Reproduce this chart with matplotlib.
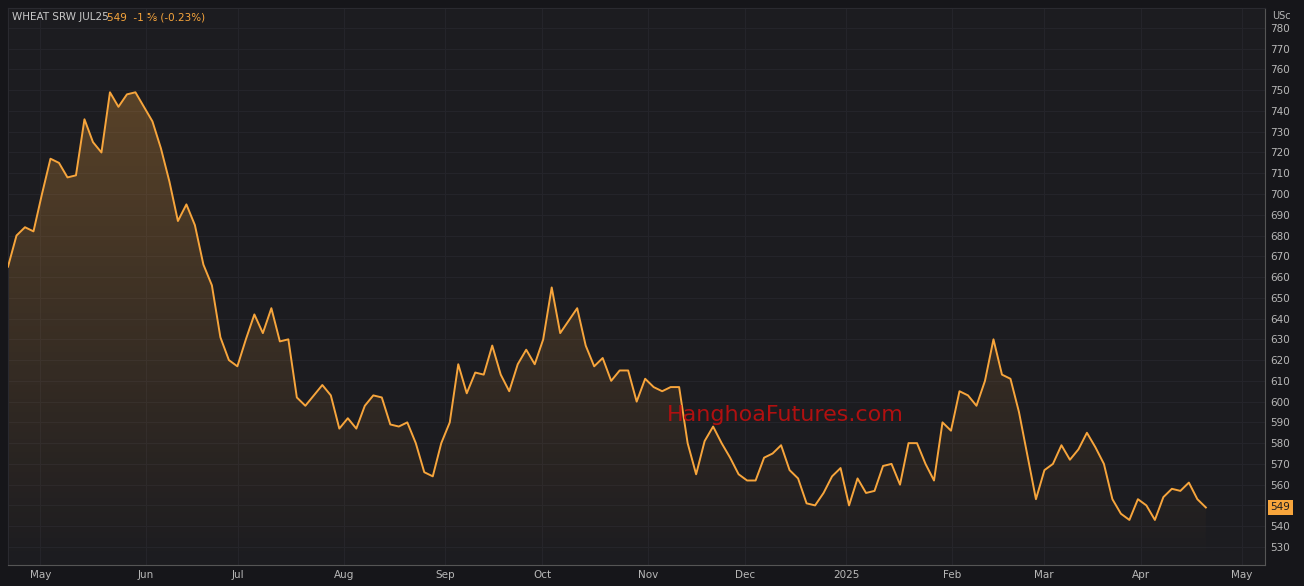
import numpy as np
import pandas as pd
import matplotlib
matplotlib.use('Agg')
import matplotlib.pyplot as plt
from matplotlib.colors import LinearSegmentedColormap

prices = [665, 680, 684, 682, 700, 717, 715, 708, 709, 736, 725, 720, 749, 742, 748, 749,
          742, 735, 722, 706, 687, 695, 685, 666, 656, 631, 620, 617, 630, 642, 633, 645,
          629, 630, 602, 598, 603, 608, 603, 587, 592, 587, 598, 603, 602, 589, 588, 590,
          580, 566, 564, 580, 590, 618, 604, 614, 613, 627, 613, 605, 618, 625, 618, 630,
          655, 633, 639, 645, 627, 617, 621, 610, 615, 615, 600, 611, 607, 605, 607, 607,
          580, 565, 581, 588, 580, 573, 565, 562, 562, 573, 575, 579, 567, 563, 551, 550,
          556, 564, 568, 550, 563, 556, 557, 569, 570, 560, 580, 580, 570, 562, 590, 586,
          605, 603, 598, 610, 630, 613, 611, 595, 574, 553, 567, 570, 579, 572, 577, 585,
          578, 570, 553, 546, 543, 553, 550, 543, 554, 558, 557, 561, 553, 549]
days = pd.bdate_range('2024-04-22', '2025-05-10')
step = (len(days[:days.get_loc(pd.Timestamp('2025-04-22'))]) + 1) / len(prices)
x = np.arange(len(prices)) * step

month_labels = ['May', 'Jun', 'Jul', 'Aug', 'Sep', 'Oct', 'Nov', 'Dec', '2025',
                'Feb', 'Mar', 'Apr', 'May']
month_starts = pd.date_range('2024-05-01', '2025-05-01', freq='MS')

orange = '#f7a53c'
bg = '#1c1c20'
fig = plt.figure(figsize=(13.04, 5.86), dpi=100, facecolor='#16161a')
ax = fig.add_axes([8/1304, 21/586, 1257/1304, 557/586], facecolor=bg)
ax.set_axisbelow(True)

ax.plot(x, prices, color=orange, lw=1.4, zorder=3)
ylo = 521
grad = np.linspace(0, 1, 256).reshape(-1, 1)
cmap = LinearSegmentedColormap.from_list('f', [(0.97, 0.65, 0.24, 0.0), (0.97, 0.65, 0.24, 0.28)])
im = ax.imshow(grad, extent=[x[0], x[-1], ylo, 750], origin='lower', aspect='auto', cmap=cmap, zorder=2)
poly = ax.fill_between(x, prices, ylo, color='none')
im.set_clip_path(poly.get_paths()[0], transform=ax.transData)

ticks = [days.searchsorted(m) for m in month_starts]
ax.set_xticks(ticks)
ax.set_xticklabels(month_labels)
ax.set_xlim(0, days.searchsorted(pd.Timestamp('2025-05-08')))
ax.set_ylim(521.3, 789.6)
ax.yaxis.tick_right()
ax.set_yticks(range(530, 790, 10))
ax.tick_params(colors='#b8b8b8', labelsize=7.5, length=0)
ax.grid(color='#24242a', lw=0.8)
for s in ax.spines.values():
    s.set_color('#2a2a30')
ax.spines['right'].set_color('#555')
ax.spines['bottom'].set_color('#555')

fig.text(12/1304, 1 - 17/586, 'WHEAT SRW JUL25', color='#c8c8c8', fontsize=7.5, va='center')
fig.text(107/1304, 1 - 17/586, '549  -1 ⅝ (-0.23%)', color=orange, fontsize=7.5, va='center')
fig.text(1272/1304, 1 - 16/586, 'USc', color='#b8b8b8', fontsize=7, va='center')
fig.text(785/1304, 1 - 415/586, 'HanghoaFutures.com', color='#b01010', fontsize=16,
         ha='center', va='center', zorder=5)
ax.text(1.0045, 549, '549', transform=ax.get_yaxis_transform(), color='#1c1c20', fontsize=7.5,
        va='center', ha='left', bbox=dict(boxstyle='square,pad=0.25', fc=orange, ec='none'))
fig.savefig('out.png', dpi=100, facecolor=fig.get_facecolor())
